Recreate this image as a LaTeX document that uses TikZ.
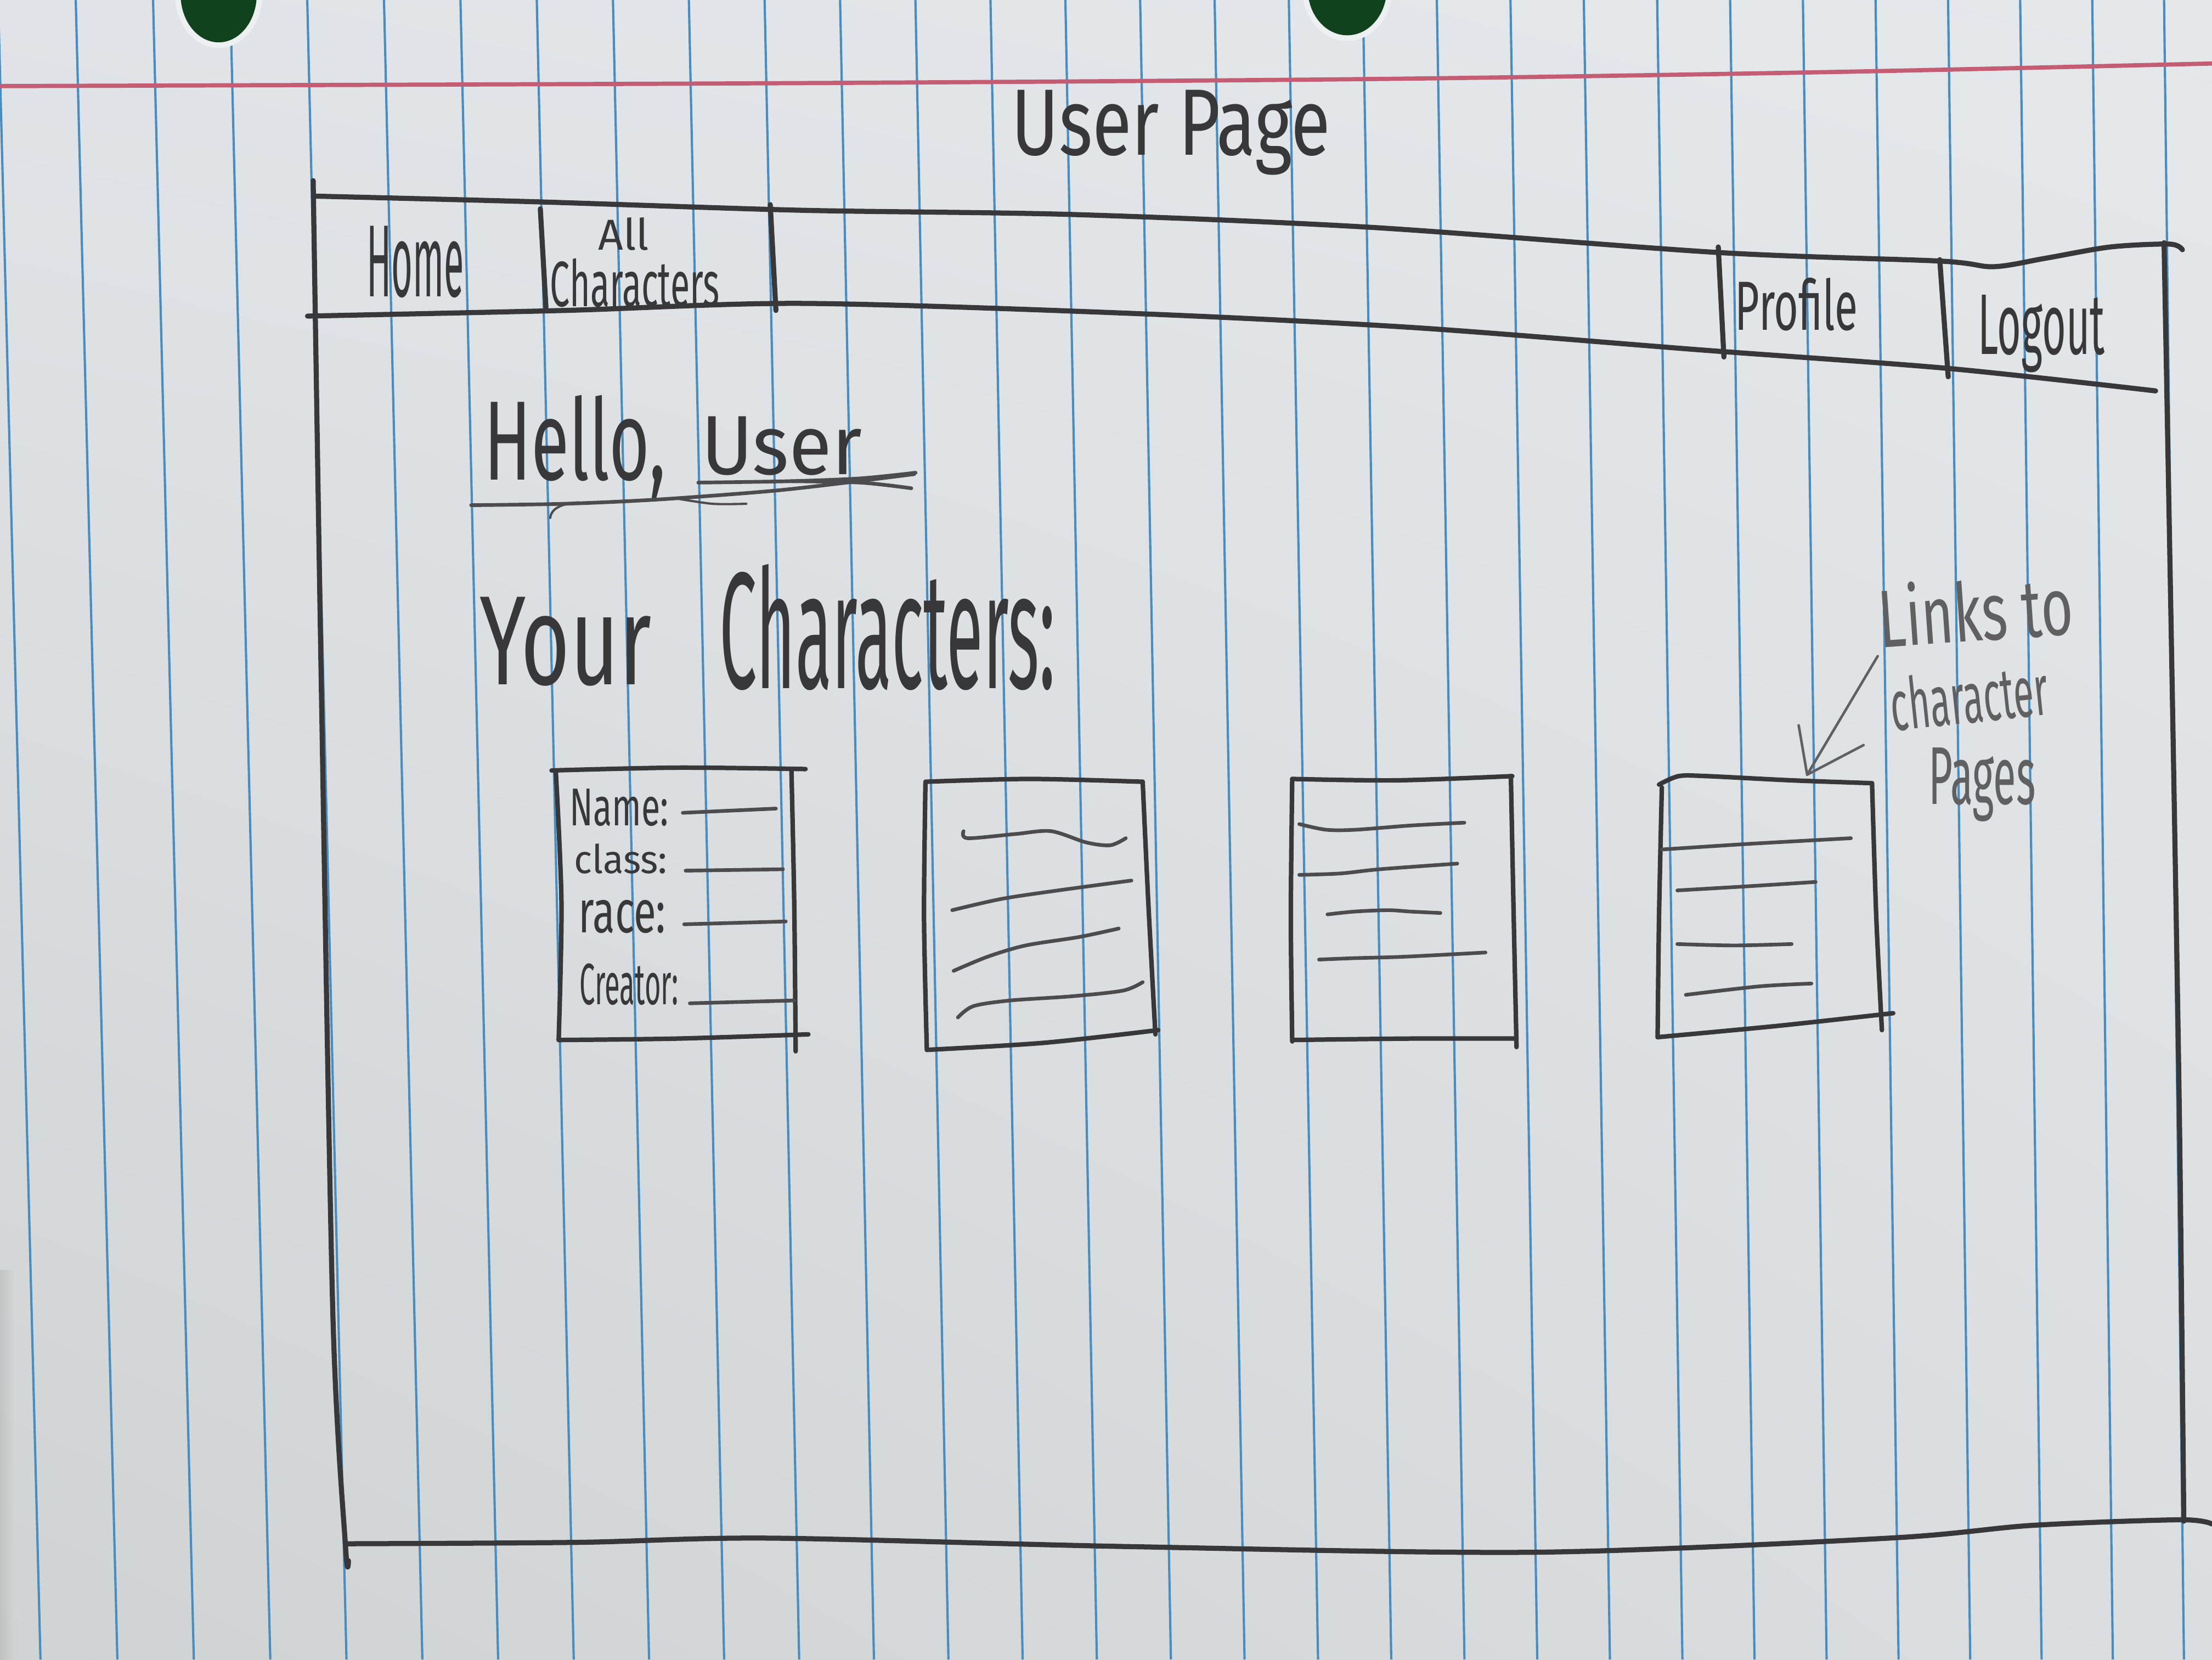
\documentclass[tikz,border=0pt]{standalone}
\usepackage{fontspec}
\usepackage{graphicx}
\usetikzlibrary{shadings}
\newfontfamily\handfont{Fira Sans}
% handwritten word squeezed into a box of given width and height (pt)
\newcommand\hw[3]{\resizebox{#1pt}{#2pt}{#3}}

\definecolor{paperTL}{RGB}{224,228,232}
\definecolor{paperTR}{RGB}{228,232,235}
\definecolor{paperBL}{RGB}{208,211,211}
\definecolor{paperBR}{RGB}{218,222,224}
\definecolor{rulingblue}{RGB}{72,140,192}
\definecolor{marginred}{RGB}{196,92,116}
\definecolor{ink}{RGB}{56,56,58}
\definecolor{pencil}{RGB}{96,96,98}
\definecolor{holegreen}{RGB}{16,66,30}
\definecolor{holerim}{RGB}{236,240,241}
\definecolor{edgegray}{RGB}{170,170,168}

\begin{document}
\begin{tikzpicture}[x=1pt,y=-1pt,
  ruling/.style={draw=rulingblue, line width=1.6pt},
  pen/.style={draw=ink, line width=3.6pt, line cap=round, line join=round},
  cardpen/.style={draw=ink, line width=3.2pt, line cap=round, line join=round},
  fieldpen/.style={draw=ink!90, line width=2.6pt, line cap=round, line join=round},
  notepen/.style={draw=pencil, line width=1.8pt, line cap=round, line join=round},
  hand/.style={inner sep=0pt, outer sep=0pt, anchor=base west, text=ink, font=\handfont},
  note/.style={hand, text=pencil},
]
\useasboundingbox (0,0) rectangle (1568,1176);

% sheet of paper
\shade[upper left=paperTL, upper right=paperTR, lower left=paperBL, lower right=paperBR]
  (0,0) rectangle (1568,1176);
\shade[left color=edgegray, right color=paperBL, opacity=0.4] (0,900) rectangle (10,1176);

% blue rulings: top x / bottom x of each line
\foreach \xt/\xb in {-1.3/28.7, 53.7/83.2, 108.5/137.4, 163.2/191.6, 217.8/245.6,
  272.2/299.4, 326.4/353.1, 380.5/406.7, 434.5/460.1, 488.3/513.3, 542.0/566.5,
  595.5/619.5, 648.9/672.3, 702.1/724.9, 755.2/777.5, 808.2/830.0, 861.0/882.2,
  913.6/934.3, 966.1/986.2, 1018.5/1038.1, 1070.7/1089.7, 1122.7/1141.2,
  1174.7/1192.6, 1226.4/1243.7, 1278.0/1294.8, 1329.5/1345.8, 1380.9/1396.6,
  1432.0/1447.2, 1483.1/1497.7, 1534.0/1548.1, 1584.7/1598.2}
  \draw[ruling] (\xt,0) -- (\xb,1176);

% red margin line
\draw[draw=marginred, line width=3pt] plot[smooth] coordinates
  {(0,61) (545,59) (972,56) (1300,51) (1568,45)};

% punched holes
\fill[holerim] (155,-4) ellipse [x radius=31pt, y radius=38pt];
\fill[holegreen] (155,-4) ellipse [x radius=27pt, y radius=34pt];
\fill[holerim] (955,-8) ellipse [x radius=32pt, y radius=37pt];
\fill[holegreen] (955,-8) ellipse [x radius=28pt, y radius=33pt];

% title
\node[hand] (title) at (717,110) {\hw{226}{46}{User Page}};

% page frame
\draw[pen] plot[smooth] coordinates {(222,128) (228,500) (236,933) (245,1097) (247,1106)};
\draw[pen] plot[smooth] coordinates {(1534,172) (1540,500) (1545,800) (1548,1078)};
\draw[pen] plot[smooth] coordinates
  {(245,1094) (410,1093) (545,1090) (800,1096) (1089,1100) (1339,1090) (1440,1081) (1545,1077) (1568,1080)};

% navigation bar
\draw[pen] plot[smooth] coordinates
  {(224,139) (380,143) (568,149) (760,152) (970,161) (1219,179) (1375,185) (1413,189) (1450,183) (1496,175) (1538,173) (1547,177)};
\draw[pen] plot[smooth] coordinates
  {(218,224) (400,220) (568,215) (800,222) (1000,232) (1206,248) (1380,261) (1528,277)};
\draw[pen] (383,148) -- (387,218);
\draw[pen] (546,145) -- (550,220);
\draw[pen] (1218,175) -- (1222,253);
\draw[pen] (1375,184) -- (1381,267);

\node[hand] (home) at (260,210) {\hw{69}{50}{Home}};
\node[hand] (all) at (424,177) {\hw{36}{23}{All}};
\node[hand] (allchars) at (390,217) {\hw{120}{34}{Characters}};
\node[hand] (profile) at (1230,234) {\hw{87}{37}{Profile}};
\node[hand] (logout) at (1402,251) {\hw{90}{42}{Logout}};

% greeting
\node[hand] (hello) at (343,340) {\hw{129}{60}{Hello,}};
\node[hand] (user) at (497,336) {\hw{114}{41}{User}};
\draw[fieldpen] plot[smooth] coordinates {(334,358) (400,357) (466,354) (546,348) (600,342) (648,336)};
\draw[fieldpen] plot[smooth] coordinates {(495,342) (560,341) (610,339) (649,335)};
\draw[fieldpen] plot[smooth] coordinates {(560,341) (610,342) (646,346)};
\draw[fieldpen, line width=1.6pt] plot[smooth] coordinates {(478,353) (505,357) (529,357)};
\draw[fieldpen, line width=1.6pt] (390,367) .. controls (391,360) and (398,357) .. (410,356);

% section heading
\node[hand] (your) at (340,485) {\hw{122}{62}{Your}};
\node[hand] (yourchars) at (510,488) {\hw{238}{88}{Characters:}};

% character card 1 (detailed)
\draw[cardpen] plot[smooth] coordinates {(391,546) (480,544) (571,545)};
\draw[cardpen] plot[smooth] coordinates {(394,547) (398,640) (396,737)};
\draw[cardpen] plot[smooth] coordinates {(396,737) (480,736) (573,733)};
\draw[cardpen] plot[smooth] coordinates {(561,545) (563,640) (564,745)};
\node[hand] (name) at (404,585) {\hw{70}{26}{Name:}};
\node[hand] (class) at (407,619) {\hw{66}{21}{class:}};
\node[hand] (race) at (410,661) {\hw{62}{23}{race:}};
\node[hand] (creator) at (411,712) {\hw{70}{29}{Creator:}};
\draw[fieldpen] (484,576) -- (550,573);
\draw[fieldpen] (486,617) -- (555,616);
\draw[fieldpen] (485,655) -- (557,653);
\draw[fieldpen] (489,711) -- (563,709);

% character card 2
\draw[cardpen] plot[smooth] coordinates {(656,554) (730,552) (810,554)};
\draw[cardpen] plot[smooth] coordinates {(656,555) (655,650) (657,744)};
\draw[cardpen] plot[smooth] coordinates {(657,744) (740,739) (821,730)};
\draw[cardpen] plot[smooth] coordinates {(810,554) (814,640) (819,733)};
\draw[fieldpen] plot[smooth] coordinates {(683,589) (686,594) (720,591) (745,589) (770,597) (787,599) (798,594)};
\draw[fieldpen] plot[smooth] coordinates {(675,645) (710,637) (750,631) (802,624)};
\draw[fieldpen] plot[smooth] coordinates {(676,688) (700,678) (727,670) (765,664) (793,658)};
\draw[fieldpen] plot[smooth] coordinates {(679,721) (690,713) (716,709) (760,706) (796,702) (810,696)};

% character card 3
\draw[cardpen] plot[smooth] coordinates {(916,552) (990,553) (1072,550)};
\draw[cardpen] plot[smooth] coordinates {(916,552) (915,650) (916,738)};
\draw[cardpen] plot[smooth] coordinates {(916,737) (1000,736) (1074,736)};
\draw[cardpen] plot[smooth] coordinates {(1071,550) (1073,650) (1075,742)};
\draw[fieldpen] plot[smooth] coordinates {(921,584) (940,588) (961,588) (1000,585) (1038,583)};
\draw[fieldpen] plot[smooth] coordinates {(921,620) (950,619) (978,616) (1033,612)};
\draw[fieldpen] plot[smooth] coordinates {(941,648) (960,646) (984,645) (1000,646) (1021,647)};
\draw[fieldpen] plot[smooth] coordinates {(935,680) (960,679) (995,678) (1053,675)};

% character card 4
\draw[cardpen] plot[smooth] coordinates {(1176,556) (1190,550) (1210,550) (1270,553) (1327,555)};
\draw[cardpen] plot[smooth] coordinates {(1178,558) (1176,650) (1175,735)};
\draw[cardpen] plot[smooth] coordinates {(1175,735) (1260,727) (1342,718)};
\draw[cardpen] plot[smooth] coordinates {(1327,555) (1330,650) (1334,730)};
\draw[fieldpen] plot[smooth] coordinates {(1178,602) (1240,598) (1312,594)};
\draw[fieldpen] plot[smooth] coordinates {(1189,631) (1240,628) (1287,625)};
\draw[fieldpen] plot[smooth] coordinates {(1189,669) (1229,670) (1270,669)};
\draw[fieldpen] plot[smooth] coordinates {(1195,705) (1247,699) (1284,697)};

% side note with its pointer
\node[note, rotate=4] (links) at (1333,459) {\hw{138}{45}{Links to}};
\node[note, rotate=6] (charword) at (1342,518) {\hw{112}{38}{character}};
\node[note] (pages) at (1367,570) {\hw{76}{40}{Pages}};
\coordinate (tip) at (1281,549);
\coordinate (barbup) at (1275,514);
\coordinate (barbright) at (1321,528);
\draw[notepen] ([shift={(-2,6)}]links.base west) -- (tip);
\draw[notepen] (barbup) -- (tip) -- (barbright);

\end{tikzpicture}
\end{document}
